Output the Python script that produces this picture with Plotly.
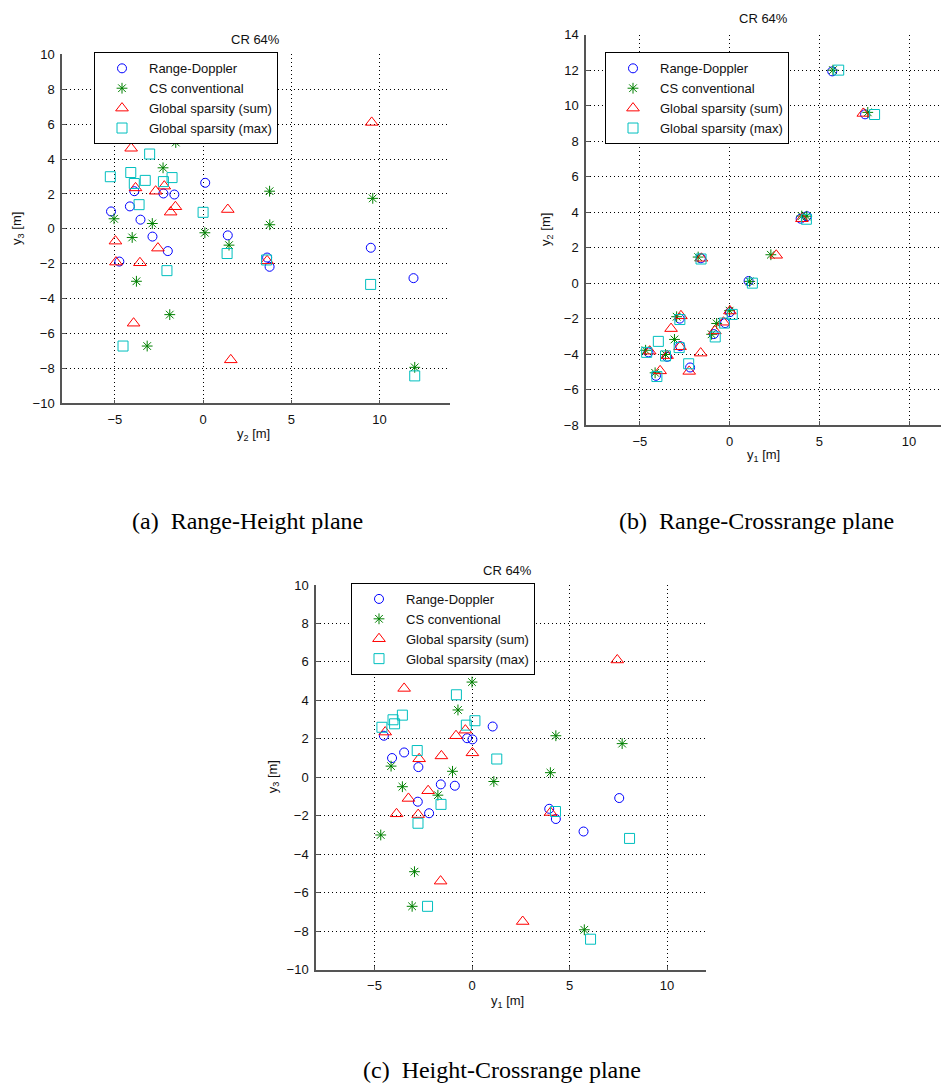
import plotly.graph_objects as go

# ---------------- data (y1 = crossrange, y2 = range, y3 = height) ----------------
methods = ["Range-Doppler", "CS conventional", "Global sparsity (sum)", "Global sparsity (max)"]

rd_y1 = [-4.52, -4.10, -3.48, -2.75, -2.78, -2.20, -1.60, -0.88, -0.25, 0.02, 1.06, 3.96, 4.30, 5.72, 7.55]
rd_y2 = [-3.90, -5.22, -4.15, -3.55, -2.00, -4.75, 1.40, -2.87, -2.25, -1.63, 0.12, 3.63, 3.77, 11.93, 9.51]
rd_y3 = [2.16, 1.00, 1.29, 0.53, -1.27, -1.87, -0.37, -0.44, 2.03, 1.97, 2.64, -1.64, -2.17, -2.82, -1.08]

cs_y1 = [0.00, -0.72, -4.15, -1.00, 4.30, 4.02, 7.70, 1.12, -3.57, -1.75, -4.68, -2.95, -3.07, 5.76, 2.30]
cs_y2 = [-1.55, -2.27, -5.05, -2.88, 3.77, 3.78, 9.62, 0.10, -4.02, 1.47, -3.78, -1.89, -3.17, 12.00, 1.60]
cs_y3 = [4.95, 3.50, 0.58, 0.31, 2.16, 0.24, 1.75, -0.22, -0.49, -0.93, -3.00, -4.91, -6.71, -7.93, None]

gsum_y1 = [7.45, -3.48, -4.45, -0.82, -0.34, 0.02, -2.71, -1.57, -2.25, -3.26, -3.87, -2.76, 4.03, -1.61, 2.60]
gsum_y2 = [9.56, -4.08, -3.83, -2.69, -2.20, -1.57, -1.84, 1.40, -4.97, -2.56, -4.94, -3.58, 3.63, -3.94, 1.57]
gsum_y3 = [6.10, 4.62, 2.35, 2.16, 2.45, 1.27, 0.96, 1.11, -0.70, -1.10, -1.90, -1.94, -1.83, -5.40, -7.50]

gmax_y1 = [-0.80, -3.57, -4.05, -3.97, -0.29, -4.62, 0.15, -2.81, 1.27, -1.59, 4.28, -2.77, 8.08, -2.28, 6.08]
gmax_y2 = [-3.03, -4.10, -5.26, -3.28, -2.25, -3.90, -1.76, -3.63, 0.00, 1.36, 3.60, -2.05, 9.50, -4.54, 12.00]
gmax_y3 = [4.29, 3.23, 2.99, 2.78, 2.71, 2.60, 2.94, 1.39, 0.95, -1.41, -1.78, -2.39, -3.18, -6.71, -8.42]

panel_title = "CR 64%"
captions = ["(a)\u2002Range-Height plane", "(b)\u2002Range-Crossrange plane", "(c)\u2002Height-Crossrange plane"]

# ---------------- styling ----------------
W, H = 941, 1092
FONT = "Liberation Sans, Arial, sans-serif"
styles = [
    dict(symbol="circle-open", color="#0000FF", size=9),
    dict(symbol="asterisk-open", color="#008000", size=9),
    dict(symbol="triangle-up-open", color="#FF0000", size=11),
    dict(symbol="square-open", color="#00BFBF", size=10),
]
series = [
    (rd_y1, rd_y2, rd_y3),
    (cs_y1, cs_y2, cs_y3),
    (gsum_y1, gsum_y2, gsum_y3),
    (gmax_y1, gmax_y2, gmax_y3),
]

def px_x(p):
    return p / W

def px_y(p):
    return 1 - p / H

panels = [
    dict(xi=1, yi=2, xa="x", ya="y", leg="legend",
         xdom=[px_x(62), px_x(450)], ydom=[px_y(402), px_y(48)],
         xrange=[-8, 14], yrange=[-10, 10], yticks=list(range(-10, 11, 2)),
         xlabel="y<sub>2</sub> [m]", ylabel="y<sub>3</sub> [m]",
         leg_xy=(94, 46), title_xy=(256, 33), xlab_xy=(254, 433), ylab_xy=(18, 225),
         cap_xy=(248, 521)),
    dict(xi=0, yi=1, xa="x2", ya="y2", leg="legend2",
         xdom=[px_x(586), 1.0], ydom=[px_y(424), px_y(28)],
         xrange=[-8, 11.78], yrange=[-8, 14], yticks=list(range(-8, 15, 2)),
         xlabel="y<sub>1</sub> [m]", ylabel="y<sub>2</sub> [m]",
         leg_xy=(605, 46), title_xy=(763, 12), xlab_xy=(763, 455), ylab_xy=(547, 226),
         cap_xy=(756, 521)),
    dict(xi=0, yi=2, xa="x3", ya="y3", leg="legend3",
         xdom=[px_x(316), px_x(706)], ydom=[px_y(976), px_y(586)],
         xrange=[-8, 12], yrange=[-10, 10], yticks=list(range(-10, 11, 2)),
         xlabel="y<sub>1</sub> [m]", ylabel="y<sub>3</sub> [m]",
         leg_xy=(351, 584), title_xy=(508, 571), xlab_xy=(508, 1008), ylab_xy=(273, 781),
         cap_xy=(502, 1078)),
]

fig = go.Figure()
layout = dict(
    width=W, height=H, margin=dict(l=0, r=0, t=0, b=0),
    paper_bgcolor="white", plot_bgcolor="white",
    font=dict(family=FONT, size=13, color="#111"),
    annotations=[],
)

for k, p in enumerate(panels):
    for name, st, data in zip(methods, styles, series):
        fig.add_trace(go.Scatter(
            x=data[p["xi"]], y=data[p["yi"]], mode="markers", name=name,
            xaxis=p["xa"], yaxis=p["ya"], legend=p["leg"],
            marker=dict(symbol=st["symbol"], size=st["size"], color=st["color"],
                        line=dict(color=st["color"], width=1)),
            cliponaxis=True,
        ))
    axis_common = dict(
        showline=True, linecolor="#555", linewidth=1.5, mirror=False,
        showgrid=True, gridcolor="#000", gridwidth=1, griddash="1px,3px",
        zeroline=False, ticks="inside", ticklen=4, tickcolor="#555",
        tickfont=dict(family=FONT, size=13, color="#111"),
        fixedrange=True,
    )
    xkey = "xaxis" if p["xa"] == "x" else "xaxis" + p["xa"][1:]
    ykey = "yaxis" if p["ya"] == "y" else "yaxis" + p["ya"][1:]
    layout[xkey] = dict(axis_common, domain=p["xdom"], range=p["xrange"],
                        tickvals=[-5, 0, 5, 10], anchor=p["ya"], ticklabelstandoff=3)
    layout[ykey] = dict(axis_common, domain=p["ydom"], range=p["yrange"],
                        tickvals=p["yticks"], anchor=p["xa"], ticklabelstandoff=3)
    layout[p["leg"]] = dict(
        x=px_x(p["leg_xy"][0]), y=px_y(p["leg_xy"][1]), xanchor="left", yanchor="top",
        xref="paper", yref="paper",
        bgcolor="white", bordercolor="#000", borderwidth=1,
        font=dict(family=FONT, size=13, color="#111"),
        itemwidth=44, tracegroupgap=0,
    )
    layout["annotations"] += [
        dict(text=panel_title, x=px_x(p["title_xy"][0]), y=px_y(p["title_xy"][1]),
             xref="paper", yref="paper", showarrow=False, xanchor="center", yanchor="middle",
             font=dict(family=FONT, size=13, color="#111")),
        dict(text=p["xlabel"], x=px_x(p["xlab_xy"][0]), y=px_y(p["xlab_xy"][1]),
             xref="paper", yref="paper", showarrow=False, xanchor="center", yanchor="middle",
             font=dict(family=FONT, size=13, color="#111")),
        dict(text=p["ylabel"], x=px_x(p["ylab_xy"][0]), y=px_y(p["ylab_xy"][1]),
             xref="paper", yref="paper", showarrow=False, xanchor="center", yanchor="middle",
             textangle=-90, font=dict(family=FONT, size=13, color="#111")),
        dict(text=captions[k], x=px_x(p["cap_xy"][0]), y=px_y(p["cap_xy"][1]),
             xref="paper", yref="paper", showarrow=False, xanchor="center", yanchor="middle",
             font=dict(family="Liberation Serif, Times New Roman, serif", size=24, color="#000")),
    ]

fig.update_layout(**layout)
fig.write_html("out.html")
